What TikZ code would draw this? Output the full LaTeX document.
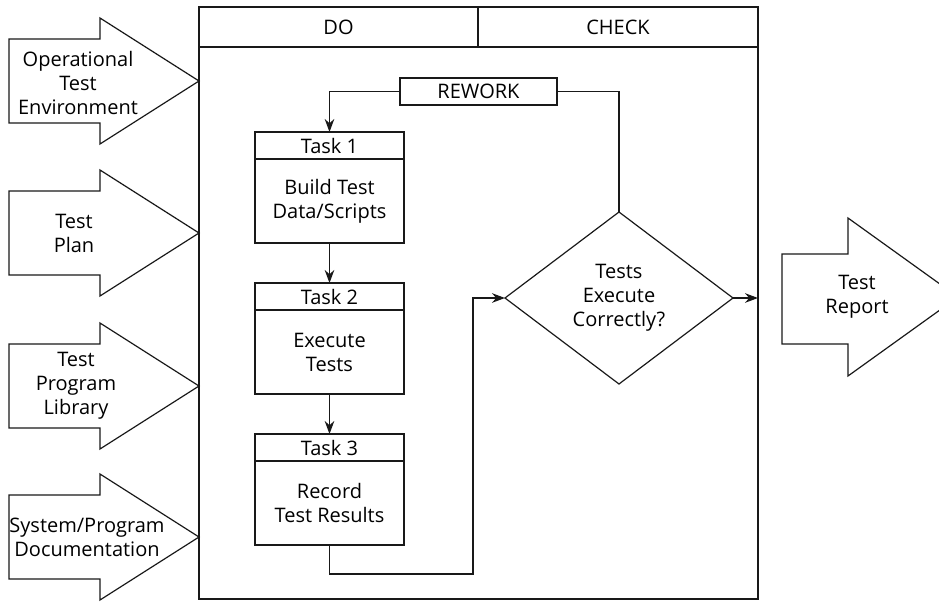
\documentclass[tikz,border=0pt]{standalone}
\usepackage{fontspec}
\setmainfont{Open Sans}
\usetikzlibrary{arrows.meta, positioning, shapes.geometric}
\definecolor{inkblack}{RGB}{25,25,25}
\newcommand{\pdcafont}{\fontsize{10}{12}\selectfont}
\tikzset{
    box/.style={rectangle, draw=inkblack, line width=0.6pt, inner sep=0pt, outer sep=0pt, font=\pdcafont, align=center},
    taskhead/.style={box, minimum width=74.5pt, minimum height=13.5pt},
    taskbody/.style={box, minimum width=74.5pt, minimum height=42pt},
    decision/.style={diamond, draw=inkblack, line width=0.6pt, inner sep=0pt, outer sep=0pt, minimum width=114pt, minimum height=86pt, font=\pdcafont, align=center},
    caption/.style={inner sep=0pt, font=\pdcafont, align=center},
    frame/.style={draw=inkblack, line width=0.7pt},
    link/.style={inkblack, line width=0.6pt},
    flow/.style={-{Stealth[length=6.5pt, width=4.8pt]}, inkblack, line width=0.6pt},
    inarrow/.pic={
        \draw[link] (-190,-42) -- (-99,-42) -- (-99,-63) -- (0,0) -- (-99,63) -- (-99,42) -- (-190,42) -- cycle;
    },
}

\begin{document}
\begin{tikzpicture}[x=0.5pt, y=-0.5pt]
    \useasboundingbox (0,0) rectangle (939,601);
    \clip (0,0) rectangle (939,601);
    % frame with DO / CHECK header
    \draw[frame] (199,7) rectangle (758,599);
    \node[box, minimum width=139.5pt, minimum height=20pt] (do) at (338.5,27) {DO};
    \node[box, minimum width=140pt, minimum height=20pt] (check) at (618,27) {CHECK};

    % inputs
    \pic at (199,81) {inarrow};
    \pic at (199,233) {inarrow};
    \pic at (199,386) {inarrow};
    \pic at (199,537) {inarrow};
    \node[caption] (env) at (78,83) {Operational\\Test\\Environment};
    \node[caption] (plan) at (74,233) {Test\\Plan};
    \node[caption] (lib) at (76,386) {Test\\Program\\Library};
    \node[caption] (doc) at (87,537) {System/Program\\Documentation};

    % tasks
    \node[taskhead] (task1h) at (329.5,145.5) {Task 1};
    \node[taskbody, below=0pt of task1h] (task1) {Build Test\\Data/Scripts};
    \node[taskhead] (task2h) at (329.5,296.5) {Task 2};
    \node[taskbody, below=0pt of task2h] (task2) {Execute\\Tests};
    \node[taskhead] (task3h) at (329.5,447.5) {Task 3};
    \node[taskbody, below=0pt of task3h] (task3) {Record\\Test Results};

    \node[box, minimum width=78.5pt, minimum height=13.5pt] (rework) at (478.5,91.5) {REWORK};
    \node[decision] (testok) at (619,298) {Tests\\Execute\\Correctly?};
    \coordinate (bend) at (473,574);
    \coordinate (exit) at (758,298);

    \draw[flow] (task1) -- (task2h);
    \draw[flow] (task2) -- (task3h);
    \draw[flow] (task3.south) |- (bend) |- (testok.west);
    \draw[link] (testok.north) |- (rework.east);
    \draw[flow] (rework.west) -| (task1h.north);
    \draw[flow] (testok.east) -- (exit);

    % output
    \draw[link] (782,254) -- (848,254) -- (848,218) -- (958,297) -- (848,376) -- (848,344) -- (782,344) -- cycle;
    \node[caption] (report) at (857,297) {Test\\Report};
\end{tikzpicture}
\end{document}
